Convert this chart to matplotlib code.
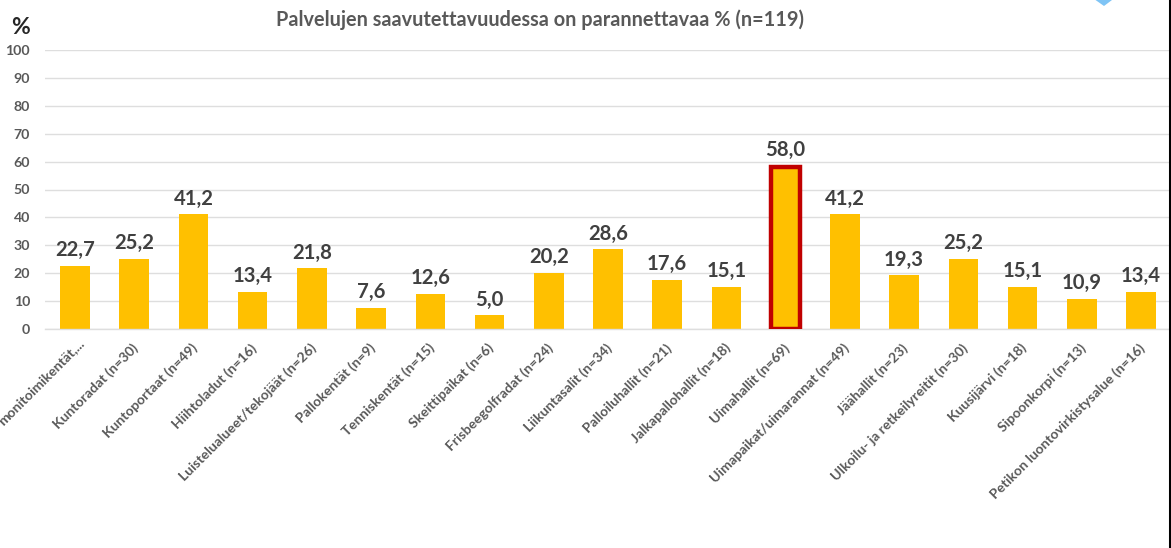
import matplotlib
matplotlib.use('Agg')
import matplotlib.pyplot as plt
from matplotlib.patches import Polygon
from matplotlib.transforms import ScaledTranslation

plt.rcParams['font.family'] = ['Lato', 'DejaVu Sans']

categories = ['monitoimikentät,...', 'Kuntoradat (n=30)', 'Kuntoportaat (n=49)', 'Hiihtoladut (n=16)',
              'Luistelualueet/tekojäät (n=26)', 'Pallokentät (n=9)', 'Tenniskentät (n=15)', 'Skeittipaikat (n=6)',
              'Frisbeegolfradat (n=24)', 'Liikuntasalit (n=34)', 'Palloiluhallit (n=21)', 'Jalkapallohallit (n=18)',
              'Uimahallit (n=69)', 'Uimapaikat/uimarannat (n=49)', 'Jäähallit (n=23)',
              'Ulkoilu- ja retkeilyreitit (n=30)', 'Kuusijärvi (n=18)', 'Sipoonkorpi (n=13)',
              'Petikon luontovirkistysalue (n=16)']
values = [22.7, 25.2, 41.2, 13.4, 21.8, 7.6, 12.6, 5.0, 20.2, 28.6, 17.6, 15.1, 58.0, 41.2, 19.3, 25.2, 15.1, 10.9, 13.4]
highlight = 'Uimahallit (n=69)'
y_ticks = list(range(0, 101, 10))
title = 'Palvelujen saavutettavuudessa on parannettavaa % (n=119)'

W, H = 1171, 548
fig = plt.figure(figsize=(W / 100, H / 100), dpi=100)
ax = fig.add_axes([45.4 / W, 1 - 329 / H, (1170.6 - 45.4) / W, (329 - 50) / H])

x = range(len(values))
ax.yaxis.grid(True, color='#dedede', linewidth=1.0)
ax.set_axisbelow(True)
ax.bar(x, values, width=0.5, color='#ffc000')

# korostettu palkki punaisella reunalla
i = categories.index(highlight)
ax.bar(i, values[i], width=0.5, color='#ffc000', edgecolor='#c00000', linewidth=3.2, zorder=3)

for k, v in enumerate(values):
    off = 7 if k == i else 5.5
    ax.annotate(f'{v:.1f}'.replace('.', ','), (k, v), xytext=(0, off), textcoords='offset pixels',
                ha='center', va='bottom', fontsize=14.6, fontweight='bold', color='#404040', zorder=5)

ax.set_xlim(-0.5, len(values) - 0.5)
ax.set_ylim(0, 100)
ax.set_yticks(y_ticks)
ax.set_xticks(list(x))
ax.set_xticklabels(categories, rotation=45, ha='right', rotation_mode='anchor',
                   fontsize=10, fontweight='bold', color='#595959')
ax.set_yticklabels([str(t) for t in y_ticks], fontsize=10.2, fontweight='bold', color='#595959')
ax.tick_params(axis='both', length=0)
ax.tick_params(axis='x', pad=9)
ax.tick_params(axis='y', pad=11)
# ensimmäinen selite on alkuperäisessä hieman ylempänä
for n, lab in enumerate(ax.get_xticklabels()):
    dx, dy = (3, 5) if n == 0 else (-2.5, 0)
    lab.set_transform(lab.get_transform() + ScaledTranslation(dx / 100, dy / 100, fig.dpi_scale_trans))
for s in ['top', 'right', 'left']:
    ax.spines[s].set_visible(False)
ax.spines['bottom'].set_color('#dedede')
ax.spines['bottom'].set_linewidth(1.0)

fig.text(539.5 / W, 1 - 19.5 / H, title, ha='center', va='center', fontsize=14.3, fontweight='bold', color='#595959')
fig.text(21 / W, 1 - 28 / H, '%', ha='center', va='center', fontsize=16.5, fontweight='bold', color='#262626')

# musta reunaviiva oikealla ja sininen salmiakki ylhäällä
fig.add_artist(plt.Line2D([1169.5 / W, 1169.5 / W], [0, 1], color='black', linewidth=2.2))
fig.add_artist(Polygon([(1095.5 / W, 1), (1112 / W, 1), (1104 / W, 1 - 6 / H)], closed=True,
                       facecolor='#7fc4f5', edgecolor='none', transform=fig.transFigure))

fig.savefig('out.png', dpi=100)
